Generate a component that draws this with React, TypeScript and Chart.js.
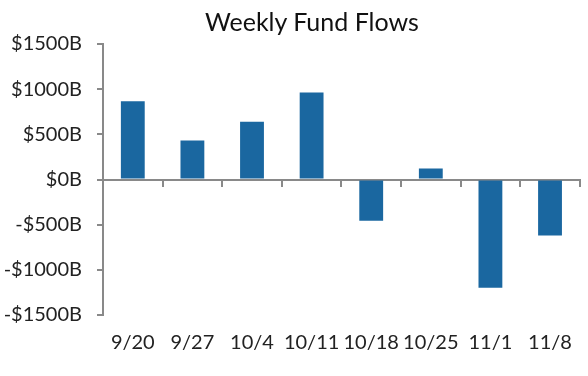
import React, { useEffect, useRef } from "react";
import { Chart, registerables } from "chart.js";

Chart.register(...registerables);

const categories = ["9/20", "9/27", "10/4", "10/11", "10/18", "10/25", "11/1", "11/8"];
const flows = [867, 433, 639, 963, -456, 122, -1197, -619];
const yMin = -1500;
const yMax = 1500;
const yStep = 500;

const BAR_COLOR = "#1a67a0";
const AXIS_COLOR = "#898989";
const TEXT_COLOR = "#222222";
const FONT = "Lato, 'Open Sans', sans-serif";

export default function App() {
  const ref = useRef<HTMLCanvasElement | null>(null);

  useEffect(() => {
    if (!ref.current) return;
    const chart = new Chart(ref.current, {
      type: "bar",
      data: {
        labels: categories,
        datasets: [
          {
            data: flows,
            backgroundColor: BAR_COLOR,
            barPercentage: 0.4,
            categoryPercentage: 1,
            xAxisID: "x",
            yAxisID: "y",
          },
        ],
      },
      options: {
        animation: false,
        responsive: true,
        maintainAspectRatio: false,
        layout: { padding: { top: 44, right: 1, bottom: 0, left: 0 } },
        plugins: {
          legend: { display: false },
          title: { display: false },
          tooltip: { enabled: false },
        },
        scales: {
          x: {
            type: "category",
            position: "bottom",
            offset: true,
            afterFit: (s: any) => {
              s.height = 61;
            },
            grid: { display: false, drawTicks: false },
            border: { display: false },
            ticks: {
              color: TEXT_COLOR,
              font: { family: FONT, size: 20 },
              padding: 16,
              maxRotation: 0,
              autoSkip: false,
            },
          },
          x2: {
            type: "category",
            labels: categories,
            position: { y: 0 },
            offset: true,
            afterFit: (s: any) => {
              s.height = 0;
            },
            grid: {
              offset: true,
              drawOnChartArea: false,
              drawTicks: true,
              tickLength: 6,
              color: AXIS_COLOR,
              lineWidth: 2,
            },
            border: { display: true, color: AXIS_COLOR, width: 2 },
            ticks: { display: false },
          },
          y: {
            min: yMin,
            max: yMax,
            afterFit: (s: any) => {
              s.width = 103;
            },
            ticks: {
              stepSize: yStep,
              color: TEXT_COLOR,
              font: { family: FONT, size: 20 },
              padding: 15,
              callback: (v: any) => (Number(v) < 0 ? "-" : "") + "$" + Math.abs(Number(v)) + "B",
            },
            grid: {
              drawOnChartArea: false,
              drawTicks: true,
              tickLength: 6,
              color: AXIS_COLOR,
              lineWidth: 2,
            },
            border: { display: true, color: AXIS_COLOR, width: 2 },
          },
        },
      },
    });
    return () => chart.destroy();
  }, []);

  return (
    <div style={{ position: "absolute", left: 0, top: 0, width: 588, height: 376 }}>
      <div
        style={{
          position: "absolute",
          left: 205,
          width: 200,
          top: 6,
          textAlign: "center",
          fontFamily: FONT,
          fontSize: 25,
          lineHeight: "30px",
          color: "#111",
          whiteSpace: "nowrap",
        }}
      >
        Weekly Fund Flows
      </div>
      <canvas ref={ref} />
    </div>
  );
}
